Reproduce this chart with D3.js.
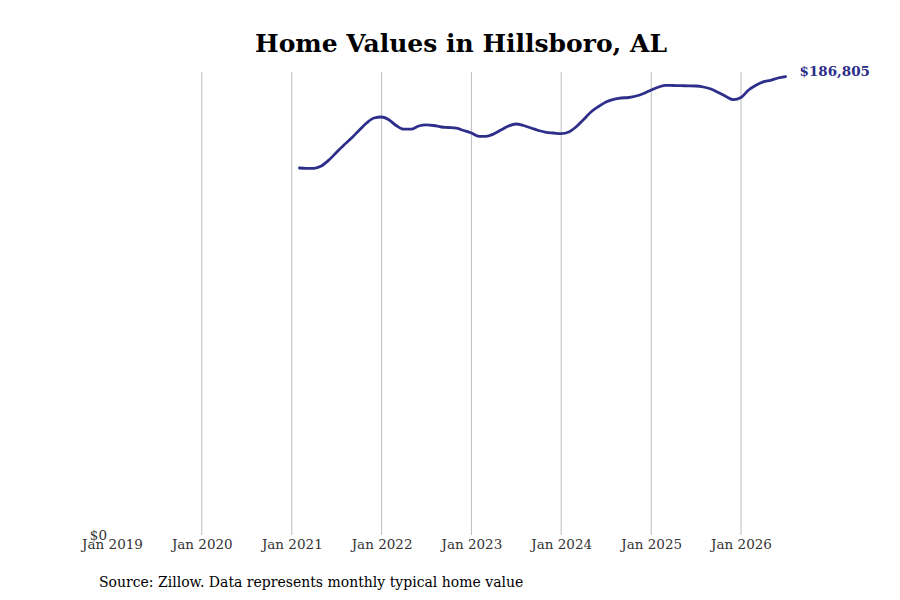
<!DOCTYPE html>
<html>
<head>
<meta charset="utf-8">
<script src="https://cdn.jsdelivr.net/npm/d3@7"></script>
<style>
  html, body { margin: 0; padding: 0; background: #fff; }
  svg { display: block; font-family: "DejaVu Serif", serif; }
</style>
</head>
<body>
<svg id="chart" width="900" height="600"></svg>
<script>
// Monthly typical home value, Feb 2021 .. Jul 2026
const startMonth = "2021-02";
const values = [
  149553, 149430, 149430, 150368, 152813, 155869, 158925, 161778, 164834, 167890, 169928,
  170335, 169113, 166872, 165363, 165363, 166668, 167157, 166872, 166261, 166057, 165772, 164834,
  163815, 162470, 162470, 163408, 165038, 166668, 167483, 166871, 165853, 164834, 164100, 163815,
  163530, 164222, 166260, 169316, 172373, 174614, 176448, 177548, 178078, 178281, 178893, 179911,
  181338, 182560, 183253, 183171, 183090, 183050, 182968, 182560, 181745, 180319, 178689, 177385,
  178281, 181338, 183171, 184679, 185290, 186228, 186805
];
const tickLabels = ["Jan 2019", "Jan 2020", "Jan 2021", "Jan 2022", "Jan 2023", "Jan 2024", "Jan 2025", "Jan 2026"];
const yTickLabels = ["$0"];
const title = "Home Values in Hillsboro, AL";
const source = "Source: Zillow. Data represents monthly typical home value";

const parseMonth = d3.timeParse("%Y-%m");
const parseTick = d3.timeParse("%b %Y");
const start = parseMonth(startMonth);
const data = values.map((v, i) => ({ date: d3.timeMonth.offset(start, i), value: v }));

const svg = d3.select("#chart");
const color = "#2e2e8b";

const x = d3.scaleTime()
  .domain([parseTick("Jan 2019"), parseTick("Jan 2026")])
  .range([112, 741]);
const yMax = d3.max(values) * 1.01;
const y = d3.scaleLinear().domain([0, yMax]).range([535, 72]);

// Title
svg.append("text")
  .attr("x", 461).attr("y", 52)
  .attr("text-anchor", "middle")
  .attr("font-size", 25).attr("font-weight", "bold").attr("fill", "#000")
  .text(title);

// Gridlines (skip first tick)
const tickDates = tickLabels.map(parseTick);
svg.append("g").selectAll("line")
  .data(tickDates.slice(1))
  .join("line")
  .attr("x1", d => x(d)).attr("x2", d => x(d))
  .attr("y1", y(yMax)).attr("y2", y(0))
  .attr("stroke", "#bdbdbd").attr("stroke-width", 1);

// X axis
const xAxis = d3.axisBottom(x)
  .tickValues(tickDates)
  .tickFormat((d, i) => tickLabels[i])
  .tickSize(0).tickPadding(4);
const gx = svg.append("g").attr("transform", `translate(0,${y(0)})`).call(xAxis);
gx.select(".domain").remove();
gx.selectAll("text").attr("font-family", "DejaVu Serif").attr("font-size", 13.5).attr("fill", "#333");

// Y axis
const yAxis = d3.axisLeft(y).tickValues([0]).tickFormat((d, i) => yTickLabels[i]).tickSize(0).tickPadding(5);
const gy = svg.append("g").attr("transform", `translate(112,0)`).call(yAxis);
gy.select(".domain").remove();
gy.selectAll("text").attr("font-family", "DejaVu Serif").attr("font-size", 13.5).attr("fill", "#333");

// Line
const line = d3.line()
  .x(d => x(d.date)).y(d => y(d.value))
  .curve(d3.curveMonotoneX);
svg.append("path")
  .datum(data)
  .attr("d", line)
  .attr("fill", "none")
  .attr("stroke", color)
  .attr("stroke-width", 2.8)
  .attr("stroke-linejoin", "round")
  .attr("stroke-linecap", "round");

// End label
const last = data[data.length - 1];
svg.append("text")
  .attr("x", x(last.date) + 14).attr("y", y(last.value) - 4)
  .attr("dominant-baseline", "middle")
  .attr("font-size", 13.5).attr("font-weight", "bold").attr("fill", color)
  .text(d3.format("$,")(last.value));

// Source
svg.append("text")
  .attr("x", 99).attr("y", 587)
  .attr("font-size", 14).attr("fill", "#000")
  .text(source);
</script>
</body>
</html>
